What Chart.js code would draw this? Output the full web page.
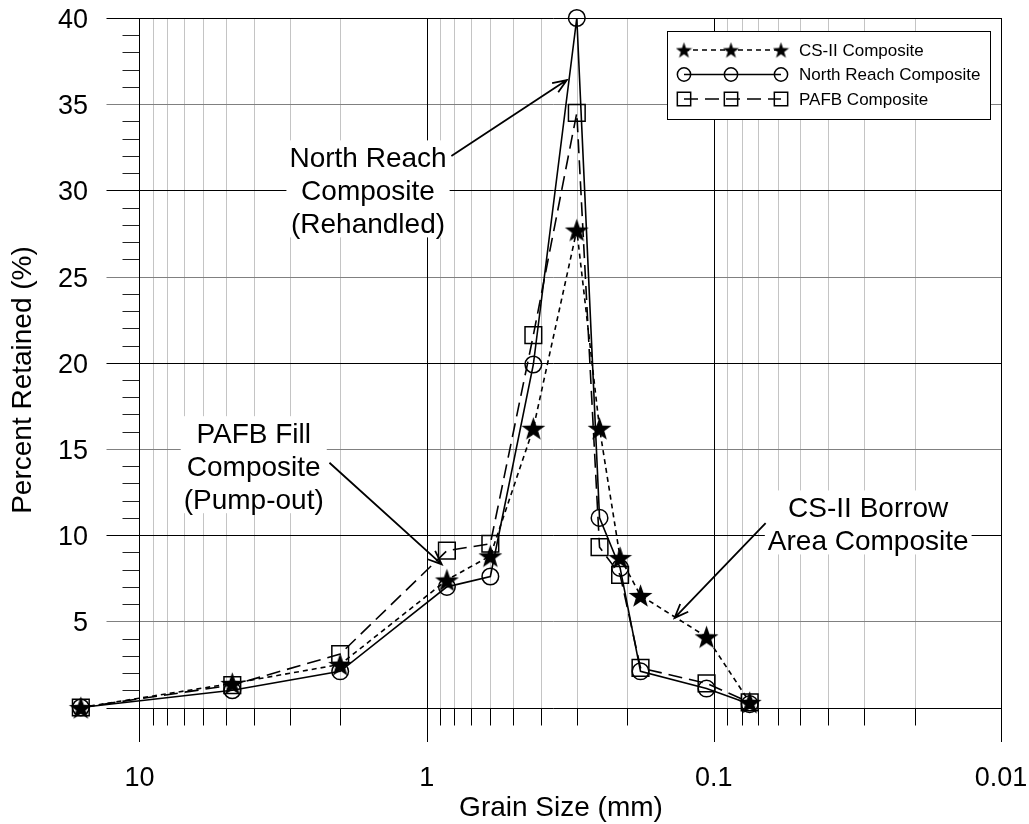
<!DOCTYPE html>
<html>
<head>
<meta charset="utf-8">
<title>Grain Size Distribution</title>
<script src="https://cdn.jsdelivr.net/npm/chart.js"></script>
<style>
  html, body { margin: 0; padding: 0; background: #fff; }
  #wrap { width: 1029px; height: 824px; }
</style>
</head>
<body>
<div id="wrap"><canvas id="grainChart" width="1029" height="824"></canvas></div>
<script>
// sieve sizes (mm) and percent retained on each sieve
const grainSizes = [16, 4.75, 2.0, 0.85, 0.6, 0.425, 0.3, 0.25, 0.212, 0.18, 0.106, 0.075];
const csIIRetained = [0.0, 1.4, 2.5, 7.4, 8.8, 16.2, 27.7, 16.2, 8.7, 6.5, 4.1, 0.3];
const northReachRetained = [0.0, 1.0, 2.1, 7.0, 7.6, 19.9, 40.0, 11.0, 8.1, 2.1, 1.1, 0.2];
const pafbRetained = [0.0, 1.3, 3.1, 9.1, 9.5, 21.6, 34.5, 9.3, 7.7, 2.3, 1.4, 0.3];

// axis ticks
const xTickValues = [10, 1, 0.1, 0.01];
const xTickLabels = ['10', '1', '0.1', '0.01'];
const yTickValues = [5, 10, 15, 20, 25, 30, 35, 40];

// callouts (positions in mm / %)
const notes = [
  { lines: ['North Reach', 'Composite', '(Rehandled)'], at: [1.6, 30], from: [0.82, 32], to: [0.325, 36.4] },
  { lines: ['PAFB Fill', 'Composite', '(Pump-out)'], at: [4.0, 14], from: [2.18, 14.2], to: [0.886, 8.3] },
  { lines: ['CS-II Borrow', 'Area Composite'], at: [0.029, 10.65], from: [0.066, 10.7], to: [0.137, 5.2] },
];

const FONT = '"Liberation Sans", Arial, sans-serif';

// filled five point star used as marker
function makeStar(size) {
  const c = document.createElement('canvas');
  c.width = size;
  c.height = size;
  const g = c.getContext('2d');
  const R = size / 2;
  const r = R * 0.4;
  const cx = size / 2;
  const cy = size / 2 + R * 0.1;
  g.beginPath();
  for (let i = 0; i < 10; i++) {
    const a = -Math.PI / 2 + (i * Math.PI) / 5;
    const rad = i % 2 === 0 ? R : r;
    g.lineTo(cx + rad * Math.cos(a), cy + rad * Math.sin(a));
  }
  g.closePath();
  g.fillStyle = '#000';
  g.fill();
  return c;
}

const starBig = makeStar(25);
const starSmall = makeStar(17);

function toPoints(values) {
  return grainSizes.map((s, i) => ({ x: s, y: values[i] }));
}

function drawMarker(ctx, style, x, y, radius) {
  if (style instanceof HTMLCanvasElement) {
    ctx.drawImage(style, x - style.width / 2, y - style.height / 2);
    return;
  }
  ctx.beginPath();
  if (style === 'circle') {
    ctx.arc(x, y, radius, 0, Math.PI * 2);
  } else {
    const h = radius * Math.SQRT1_2;
    ctx.rect(x - h, y - h, 2 * h, 2 * h);
  }
  ctx.stroke();
}

function drawArrow(ctx, x1, y1, x2, y2) {
  const ang = Math.atan2(y2 - y1, x2 - x1);
  const head = 15;
  const spread = 0.38;
  ctx.beginPath();
  ctx.moveTo(x1, y1);
  ctx.lineTo(x2, y2);
  ctx.moveTo(x2 - head * Math.cos(ang - spread), y2 - head * Math.sin(ang - spread));
  ctx.lineTo(x2, y2);
  ctx.lineTo(x2 - head * Math.cos(ang + spread), y2 - head * Math.sin(ang + spread));
  ctx.stroke();
}

// excel style grid, ticks and labels
const axesPlugin = {
  id: 'excelAxes',
  beforeDatasetsDraw(chart) {
    const { ctx, chartArea: area, scales: { x, y } } = chart;
    const y0 = Math.round(y.getPixelForValue(0)) + 0.5;
    const yLeft = Math.round(x.getPixelForValue(10)) + 0.5;
    ctx.save();
    ctx.lineWidth = 1;

    // minor vertical grid (2..9 per decade)
    [1, 0.1, 0.01].forEach((d) => {
      for (let m = 2; m <= 9; m++) {
        const px = Math.round(x.getPixelForValue(d * m)) + 0.5;
        ctx.strokeStyle = '#c4c4c4';
        ctx.beginPath();
        ctx.moveTo(px, area.top);
        ctx.lineTo(px, y0);
        ctx.stroke();
        ctx.strokeStyle = '#000';
        ctx.beginPath();
        ctx.moveTo(px, y0);
        ctx.lineTo(px, y0 + 17);
        ctx.stroke();
      }
    });

    // horizontal grid every 5 %
    for (let v = 0; v <= 40; v += 5) {
      const py = Math.round(y.getPixelForValue(v)) + 0.5;
      ctx.strokeStyle = v % 10 === 0 ? '#000' : '#808080';
      ctx.beginPath();
      ctx.moveTo(yLeft - 33, py);
      ctx.lineTo(area.right, py);
      ctx.stroke();
    }

    // minor y ticks every 1 %
    ctx.strokeStyle = '#222';
    for (let v = 1; v < 40; v++) {
      if (v % 5 === 0) continue;
      const py = Math.round(y.getPixelForValue(v)) + 0.5;
      ctx.beginPath();
      ctx.moveTo(yLeft - 17, py);
      ctx.lineTo(yLeft, py);
      ctx.stroke();
    }

    // major vertical lines at decades
    ctx.strokeStyle = '#000';
    xTickValues.forEach((v) => {
      const px = Math.round(x.getPixelForValue(v)) + 0.5;
      ctx.beginPath();
      ctx.moveTo(px, area.top);
      ctx.lineTo(px, area.bottom);
      ctx.stroke();
    });

    // tick labels
    ctx.fillStyle = '#000';
    ctx.font = '27px ' + FONT;
    ctx.textBaseline = 'alphabetic';
    ctx.textAlign = 'right';
    yTickValues.forEach((v) => {
      ctx.fillText(String(v), 88, y.getPixelForValue(v) + 10);
    });
    ctx.textAlign = 'center';
    xTickValues.forEach((v, i) => {
      ctx.fillText(xTickLabels[i], x.getPixelForValue(v), 786);
    });

    // axis titles
    ctx.font = '28px ' + FONT;
    ctx.fillText('Grain Size (mm)', 561, 816);
    ctx.save();
    ctx.translate(31, (area.top + area.bottom) / 2);
    ctx.rotate(-Math.PI / 2);
    ctx.fillText('Percent Retained (%)', 0, 0);
    ctx.restore();

    ctx.restore();
  },

  afterDatasetsDraw(chart) {
    const { ctx, chartArea: area, scales: { x, y } } = chart;
    ctx.save();

    // callouts with white boxes
    ctx.font = '28px ' + FONT;
    ctx.textAlign = 'center';
    ctx.textBaseline = 'alphabetic';
    const lineH = 33;
    notes.forEach((n) => {
      const cx = x.getPixelForValue(n.at[0]);
      const cy = y.getPixelForValue(n.at[1]);
      const first = cy - ((n.lines.length - 1) * lineH) / 2;
      const last = first + (n.lines.length - 1) * lineH;
      const w = Math.max(...n.lines.map((l) => ctx.measureText(l).width));
      ctx.fillStyle = '#fff';
      ctx.fillRect(cx - w / 2 - 3, first - 17, w + 6, last - first + 31);
      ctx.fillStyle = '#000';
      n.lines.forEach((l, i) => ctx.fillText(l, cx, first + i * lineH + 10));
      ctx.strokeStyle = '#000';
      ctx.lineWidth = 1.8;
      drawArrow(
        ctx,
        x.getPixelForValue(n.from[0]), y.getPixelForValue(n.from[1]),
        x.getPixelForValue(n.to[0]), y.getPixelForValue(n.to[1])
      );
    });

    // legend box
    const lx = area.right - 334;
    const ly = area.top + 13;
    ctx.fillStyle = '#fff';
    ctx.fillRect(lx, ly, 323, 88);
    ctx.lineWidth = 1;
    ctx.strokeStyle = '#000';
    ctx.strokeRect(lx + 0.5, ly + 0.5, 323, 88);
    ctx.font = '17px ' + FONT;
    ctx.textAlign = 'left';
    ctx.textBaseline = 'middle';
    chart.data.datasets.forEach((ds, i) => {
      const ry = ly + 19 + i * 24.5;
      const xs = [lx + 17, lx + 64, lx + 114];
      ctx.lineWidth = ds.borderWidth;
      ctx.setLineDash(ds.borderDash || []);
      ctx.beginPath();
      ctx.moveTo(xs[0], ry);
      ctx.lineTo(xs[2], ry);
      ctx.stroke();
      ctx.setLineDash([]);
      ctx.lineWidth = 1.5;
      const style = ds.pointStyle === starBig ? starSmall : ds.pointStyle;
      xs.forEach((px) => drawMarker(ctx, style, px, ry, ds.pointRadius * 0.8));
      ctx.fillStyle = '#000';
      ctx.fillText(ds.label, lx + 132, ry + 1);
    });

    ctx.restore();
  },
};

const ctx = document.getElementById('grainChart').getContext('2d');
new Chart(ctx, {
  type: 'line',
  data: {
    datasets: [
      {
        label: 'CS-II Composite',
        data: toPoints(csIIRetained),
        borderColor: '#000',
        borderWidth: 1.6,
        borderDash: [5, 4],
        pointStyle: starBig,
        pointRadius: 12,
        clip: false,
        tension: 0,
      },
      {
        label: 'North Reach Composite',
        data: toPoints(northReachRetained),
        borderColor: '#000',
        borderWidth: 1.6,
        pointStyle: 'circle',
        pointRadius: 8.3,
        pointBorderWidth: 1.5,
        pointBorderColor: '#000',
        pointBackgroundColor: 'rgba(0,0,0,0)',
        clip: false,
        tension: 0,
      },
      {
        label: 'PAFB Composite',
        data: toPoints(pafbRetained),
        borderColor: '#000',
        borderWidth: 1.6,
        borderDash: [14, 7],
        pointStyle: 'rect',
        pointRadius: 11.8,
        pointBorderWidth: 1.5,
        pointBorderColor: '#000',
        pointBackgroundColor: 'rgba(0,0,0,0)',
        clip: false,
        tension: 0,
      },
    ],
  },
  options: {
    responsive: false,
    animation: false,
    events: [],
    layout: {
      padding: { left: 53, right: 28, top: 18, bottom: 82 },
    },
    plugins: {
      legend: { display: false },
      tooltip: { enabled: false },
    },
    scales: {
      x: {
        type: 'logarithmic',
        reverse: true,
        min: 0.01,
        max: 20,
        display: false,
      },
      y: {
        type: 'linear',
        min: -2,
        max: 40,
        display: false,
      },
    },
  },
  plugins: [axesPlugin],
});
</script>
</body>
</html>
